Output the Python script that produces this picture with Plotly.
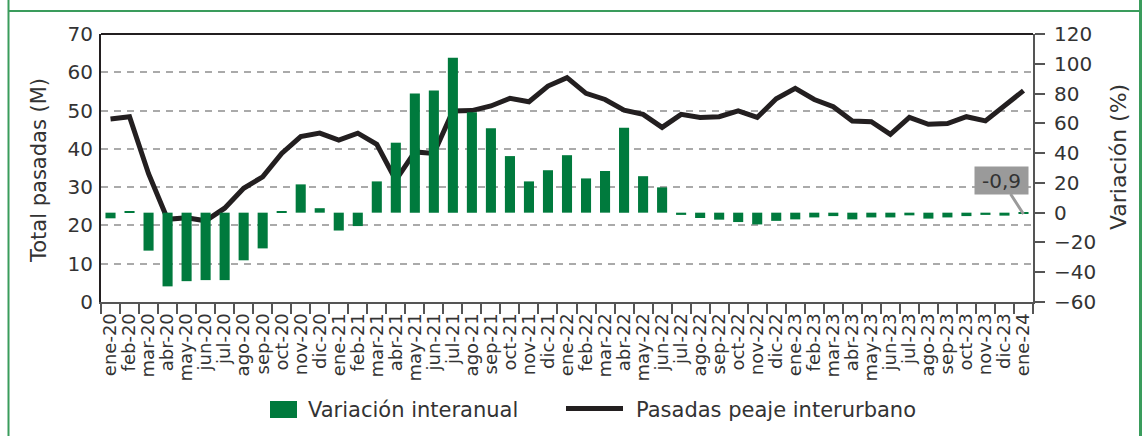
import plotly.graph_objects as go

meses = ["ene-20","feb-20","mar-20","abr-20","may-20","jun-20","jul-20","ago-20","sep-20","oct-20","nov-20","dic-20",
         "ene-21","feb-21","mar-21","abr-21","may-21","jun-21","jul-21","ago-21","sep-21","oct-21","nov-21","dic-21",
         "ene-22","feb-22","mar-22","abr-22","may-22","jun-22","jul-22","ago-22","sep-22","oct-22","nov-22","dic-22",
         "ene-23","feb-23","mar-23","abr-23","may-23","jun-23","jul-23","ago-23","sep-23","oct-23","nov-23","dic-23",
         "ene-24"]

pasadas = [47.8, 48.4, 33.5, 21.6, 22.0, 21.2, 24.5, 29.7, 32.7, 38.8, 43.2, 44.1,
           42.3, 44.1, 41.2, 31.8, 39.2, 38.8, 49.9, 50.0, 51.2, 53.2, 52.3, 56.4,
           58.6, 54.5, 52.9, 50.1, 49.0, 45.6, 49.0, 48.2, 48.4, 49.9, 48.2, 53.1,
           55.8, 52.9, 51.0, 47.3, 47.1, 43.8, 48.2, 46.4, 46.6, 48.4, 47.3, 51.4,
           55.2]

variacion = [-3.8, 1.0, -25.5, -49.5, -46.0, -45.3, -45.3, -32.0, -24.0, 0.5, 19.0, 3.0,
             -12.0, -9.0, 21.0, 47.0, 80.0, 82.0, 104.0, 67.5, 56.7, 38.0, 21.0, 28.5,
             38.6, 23.0, 28.0, 57.0, 24.5, 17.0, -1.5, -3.6, -4.7, -6.3, -7.9, -5.5,
             -4.5, -3.2, -2.3, -4.5, -3.2, -3.2, -1.8, -4.0, -3.2, -2.3, -1.5, -2.0,
             -0.9]

ultimo_label = "-0,9"

VERDE = "#007a3d"
NEGRO = "#231f20"
GRIS_TXT = "#333333"
FONT = "DejaVu Sans"

fig = go.Figure()
fig.add_trace(go.Bar(x=meses, y=variacion, yaxis="y2", marker_color=VERDE,
                     marker_line_width=0, name="Variación interanual", showlegend=False))
fig.add_trace(go.Scatter(x=meses, y=pasadas, yaxis="y", mode="lines",
                         line=dict(color=NEGRO, width=5), name="Pasadas peaje interurbano",
                         showlegend=False))

# plot-area geometry (px): x 101..1033, y 34..302
L, R, T, B = 101, 1033, 34, 302
W, H = R - L, B - T
def px(x):
    return (x - L) / W
def py(y):
    return (B - y) / H

BORDE = "#3a9c5c"
shapes = [
    dict(type="line", xref="paper", yref="paper", x0=0, x1=1, y0=1, y1=1,
         line=dict(color=NEGRO, width=2)),
    dict(type="line", xref="paper", yref="paper", x0=px(8.5), x1=px(8.5), y0=py(0), y1=py(436),
         line=dict(color=BORDE, width=2)),
    dict(type="line", xref="paper", yref="paper", x0=px(8.5), x1=px(1141), y0=py(11), y1=py(11),
         line=dict(color=BORDE, width=2)),
    dict(type="line", xref="paper", yref="paper", x0=px(1140.5), x1=px(1140.5), y0=py(0), y1=py(436),
         line=dict(color=BORDE, width=3)),
    dict(type="rect", xref="paper", yref="paper", x0=px(270), x1=px(297), y0=py(401), y1=py(418),
         fillcolor=VERDE, line_width=0),
    dict(type="line", xref="paper", yref="paper", x0=px(566), x1=px(623), y0=py(408.5), y1=py(408.5),
         line=dict(color=NEGRO, width=5)),
]

annotations = [
    dict(text="Variación interanual", xref="paper", yref="paper", x=px(306), y=py(409.5),
         xanchor="left", yanchor="middle", showarrow=False, font=dict(size=21, color=GRIS_TXT, family=FONT)),
    dict(text="Pasadas peaje interurbano", xref="paper", yref="paper", x=px(634), y=py(409.5),
         xanchor="left", yanchor="middle", showarrow=False, font=dict(size=21, color=GRIS_TXT, family=FONT)),
    dict(text="Total pasadas (M)", xref="paper", yref="paper", x=px(39), y=py(171),
         xanchor="center", yanchor="middle", textangle=-90, showarrow=False,
         font=dict(size=21, color=GRIS_TXT, family=FONT)),
    dict(text="Variación (%)", xref="paper", yref="paper", x=px(1118), y=py(157),
         xanchor="center", yanchor="middle", textangle=-90, showarrow=False,
         font=dict(size=22, color=GRIS_TXT, family=FONT)),
    dict(text=ultimo_label, x=meses[-1], y=variacion[-1], xref="x", yref="y2",
         showarrow=True, arrowhead=0, arrowwidth=3, arrowcolor="#9a9a9a",
         ax=-22, ay=-34, width=53, height=27, bgcolor="#9a9a9a", borderpad=0,
         font=dict(size=20, color=GRIS_TXT, family=FONT)),
]

fig.update_layout(
    width=1144, height=436,
    margin=dict(l=L, r=1144 - R, t=T, b=436 - B, autoexpand=False),
    paper_bgcolor="white", plot_bgcolor="white",
    bargap=0.47,
    font=dict(family=FONT, color=GRIS_TXT, size=17),
    showlegend=False,
    shapes=shapes,
    annotations=annotations,
    xaxis=dict(type="category", categoryorder="array", categoryarray=meses,
               tickmode="linear", tick0=0, dtick=1,
               tickson="boundaries", ticks="outside", ticklen=10, tickwidth=2, tickcolor="#555555",
               tickangle=-90, tickfont=dict(size=18, color=GRIS_TXT), ticklabelstandoff=2,
               showline=True, linecolor="#555555", linewidth=2, showgrid=False),
    yaxis=dict(range=[0, 70], dtick=10, showgrid=True, gridcolor="#aaaaaa", griddash="7px,6px",
               gridwidth=1.5, zeroline=False, showline=True, linecolor=NEGRO, linewidth=2,
               ticks="", tickfont=dict(size=20, color=GRIS_TXT), ticklabelstandoff=2),
    yaxis2=dict(range=[-60, 120], dtick=20, overlaying="y", side="right", showgrid=False,
                zeroline=False, showline=True, linecolor="#555555", linewidth=2,
                ticks="outside", ticklen=10, tickwidth=2, tickcolor="#555555",
                tickfont=dict(size=20, color=GRIS_TXT), ticklabelstandoff=5),
)

fig.write_html("out.html", config={"displayModeBar": False},
               post_script="document.body.style.margin='0px';document.body.style.padding='0px';")
